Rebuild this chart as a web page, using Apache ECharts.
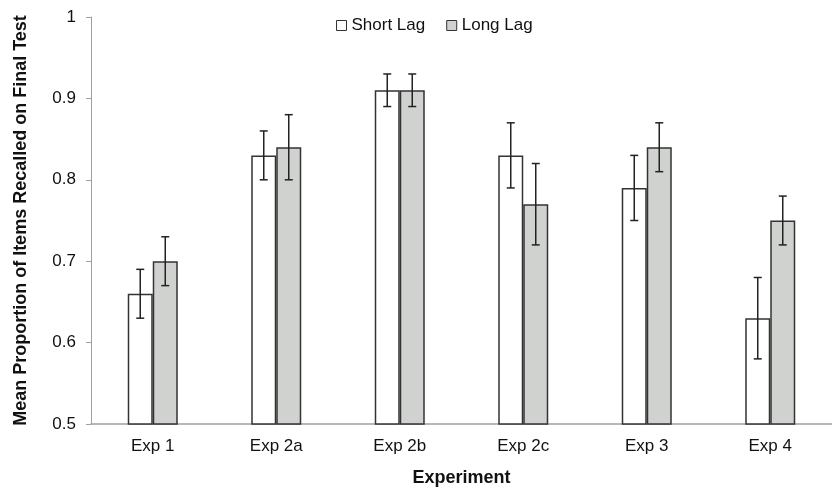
<!DOCTYPE html>
<html><head><meta charset="utf-8">
<script src="https://cdn.jsdelivr.net/npm/echarts@6/dist/echarts.min.js"></script>
<style>html,body{margin:0;padding:0;background:#fff}#c{width:832px;height:492px}</style>
</head><body><div id="c"></div>
<script>
const categories = ['Exp 1','Exp 2a','Exp 2b','Exp 2c','Exp 3','Exp 4'];
const shortLag = [0.66, 0.83, 0.91, 0.83, 0.79, 0.63];
const longLag = [0.70, 0.84, 0.91, 0.77, 0.84, 0.75];
const shortErr = [0.03, 0.03, 0.02, 0.04, 0.04, 0.05];
const longErr = [0.03, 0.04, 0.02, 0.05, 0.03, 0.03];

const BAR_W = 25;
function errSeries(vals, errs, offset){
  return {
    type:'custom', z:5,
    data: vals.map((v,i)=>[i, v-errs[i], v+errs[i]]),
    renderItem: function(params, api){
      const lo = api.coord([api.value(0), api.value(1)]);
      const hi = api.coord([api.value(0), api.value(2)]);
      const x = lo[0] + offset;
      const cap = 4;
      const st = {stroke:'#222', lineWidth:1.5};
      return {type:'group', children:[
        {type:'line', shape:{x1:x,y1:lo[1],x2:x,y2:hi[1]}, style:st},
        {type:'line', shape:{x1:x-cap,y1:lo[1],x2:x+cap,y2:lo[1]}, style:st},
        {type:'line', shape:{x1:x-cap,y1:hi[1],x2:x+cap,y2:hi[1]}, style:st}
      ]};
    },
    silent:true, tooltip:{show:false}
  };
}
const font = 'Liberation Sans, Arial, sans-serif';
const chart = echarts.init(document.getElementById('c'));
chart.setOption({
  animation:false,
  textStyle:{fontFamily:font},
  grid:{left:91, width:752, top:17, bottom:63},
  legend:{
    top:17, left:336, padding:0, itemWidth:10, itemHeight:10, itemGap:21,
    textStyle:{fontSize:17, color:'#111', fontFamily:font},
    data:[
      {name:'Short Lag', icon:'rect', itemStyle:{color:'#fff', borderColor:'#333', borderWidth:1}},
      {name:'Long Lag', icon:'rect', itemStyle:{color:'#d0d2d0', borderColor:'#333', borderWidth:1}}
    ]
  },
  xAxis:{
    type:'category', data:categories,
    name:'Experiment', nameLocation:'middle', nameGap:45,
    nameTextStyle:{fontSize:18, fontWeight:'bold', color:'#111', fontFamily:font},
    axisLine:{lineStyle:{color:'#a0a0a0', width:1.5}},
    axisTick:{show:false},
    axisLabel:{fontSize:17, color:'#111', margin:14, fontFamily:font}
  },
  yAxis:{
    type:'value', min:0.5, max:1, interval:0.1,
    name:'Mean Proportion of Items Recalled on Final Test', nameLocation:'middle', nameGap:61,
    nameTextStyle:{fontSize:18, fontWeight:'bold', color:'#111', fontFamily:font},
    axisLine:{show:true, lineStyle:{color:'#a0a0a0', width:1}},
    axisTick:{show:true, length:5, lineStyle:{color:'#a0a0a0'}},
    splitLine:{show:false},
    axisLabel:{fontSize:17, color:'#111', margin:15, fontFamily:font,
      formatter: v => (Math.abs(v-1)<1e-9 ? '1' : v.toFixed(1))}
  },
  series:[
    {name:'Short Lag', type:'bar', data:shortLag, barWidth:BAR_W, barGap:'0%',
      itemStyle:{color:'#fff', borderColor:'#333', borderWidth:1.5}},
    {name:'Long Lag', type:'bar', data:longLag, barWidth:BAR_W, barGap:'0%',
      itemStyle:{color:'#d0d2d0', borderColor:'#333', borderWidth:1.5}},
    errSeries(shortLag, shortErr, -BAR_W/2),
    errSeries(longLag, longErr, BAR_W/2)
  ]
});
</script></body></html>
